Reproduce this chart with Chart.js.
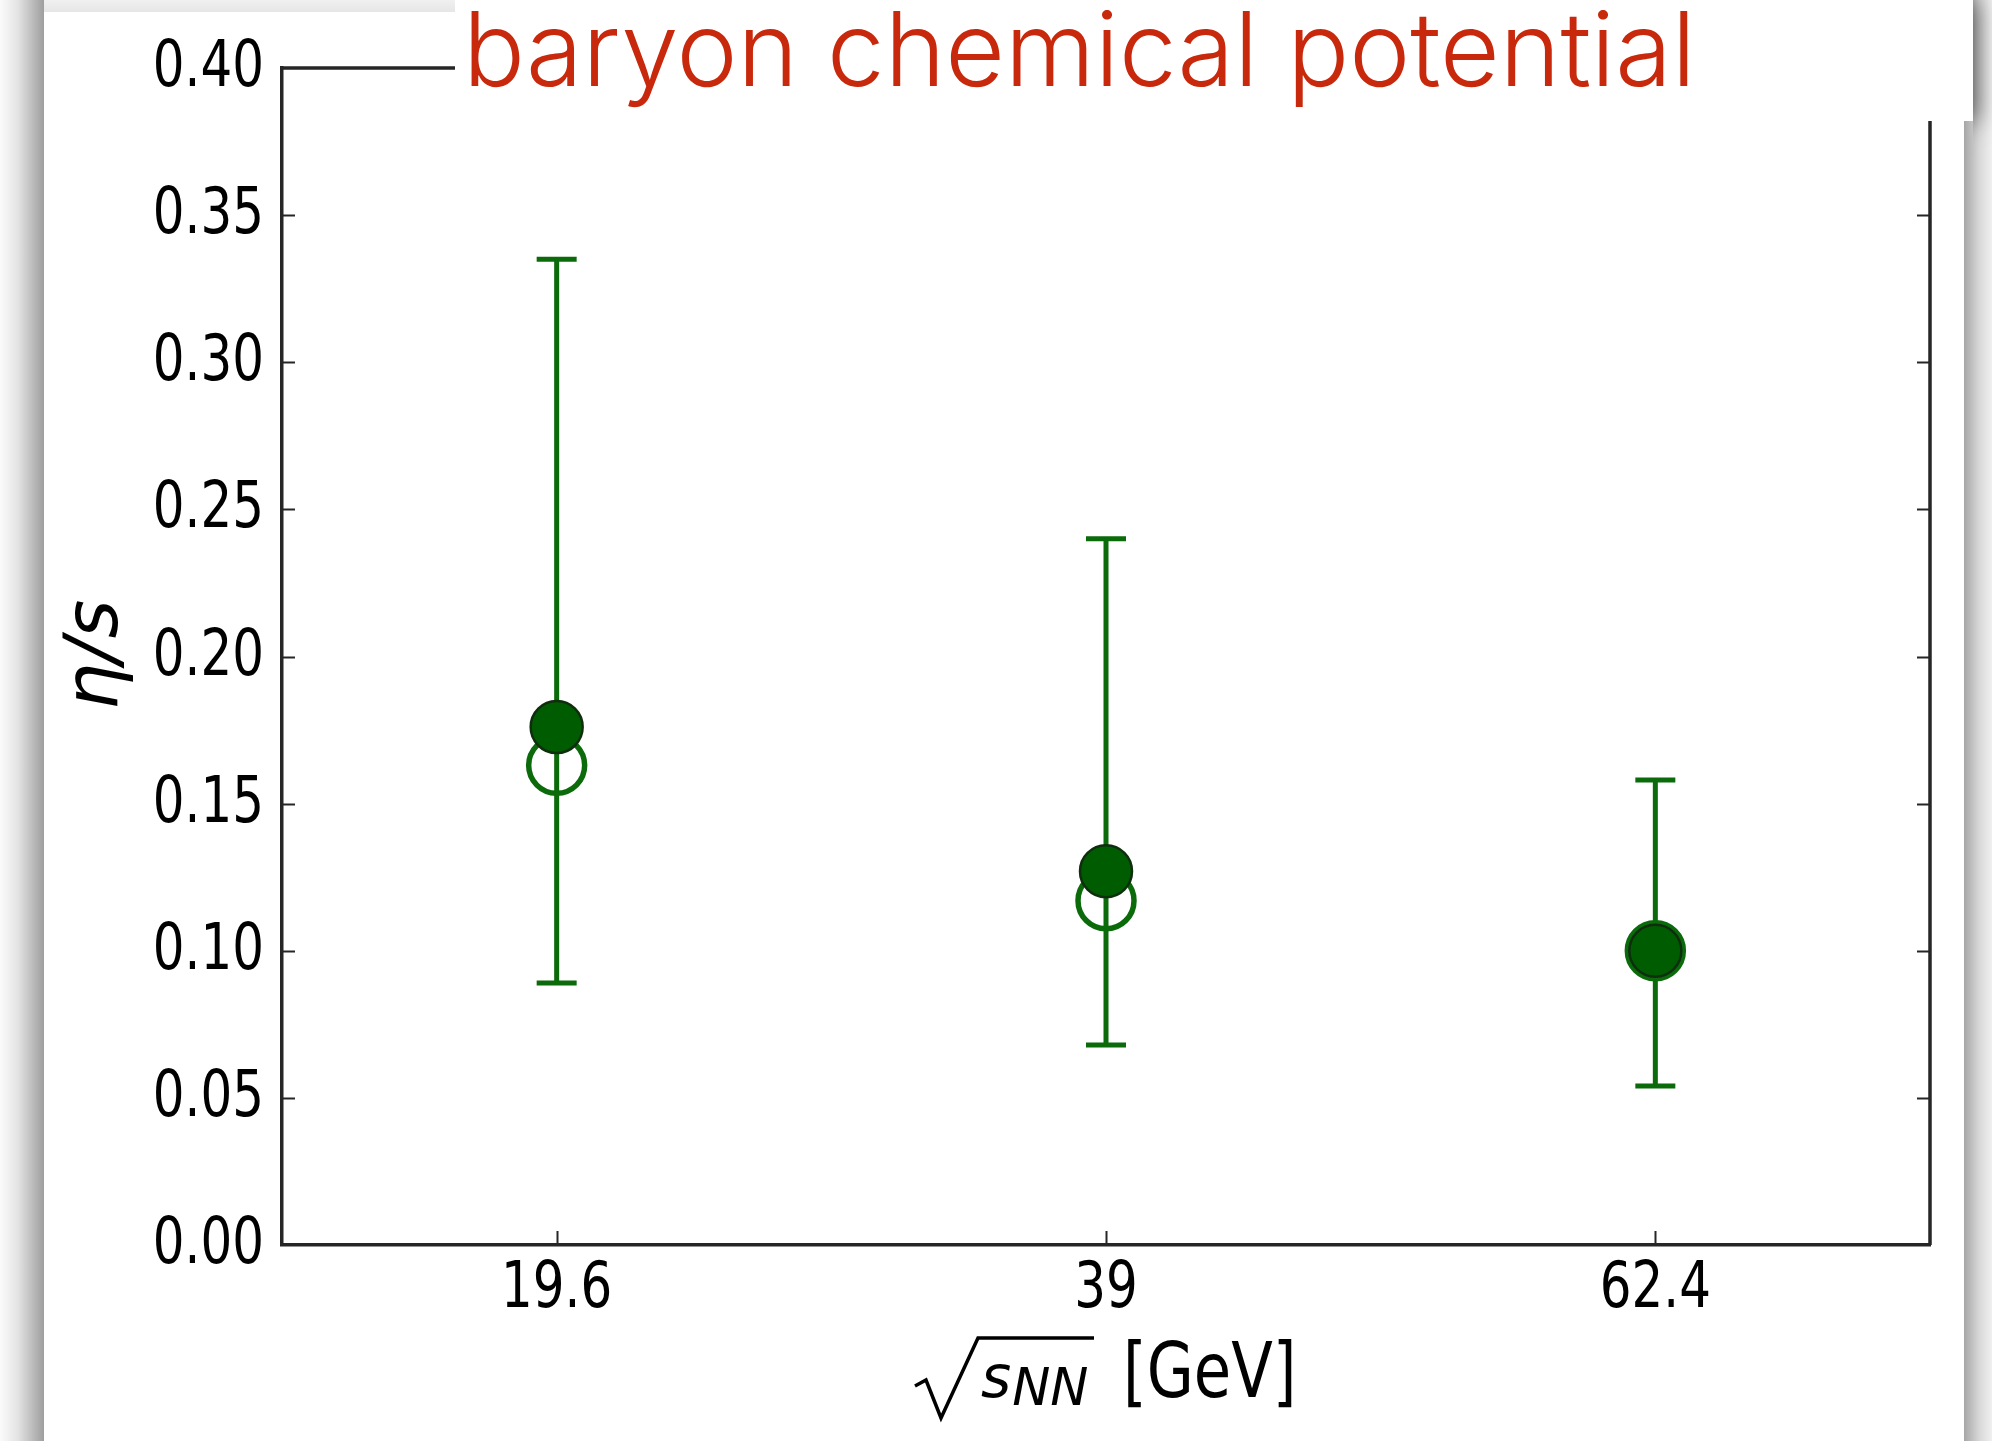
<!DOCTYPE html>
<html>
<head>
<meta charset="utf-8">
<title>eta/s vs beam energy</title>
<script src="https://cdn.jsdelivr.net/npm/chart.js@4.4.1/dist/chart.umd.min.js"></script>
<style>
  html, body { margin: 0; padding: 0; }
  body { width: 1992px; height: 1441px; overflow: hidden; background: #fff; position: relative; }
  .strip { position: absolute; }
  #leftStrip { left: 0; top: 0; width: 44px; height: 1441px; background: linear-gradient(to right, #fbfbfb, #e4e4e4 40%, #9e9e9e); }
  #topStrip { left: 44px; top: 0; width: 1920px; height: 12px; background: linear-gradient(to bottom, #f0f0f0, #e6e6e6); }
  #rightStrip { left: 1964px; top: 0; width: 28px; height: 1441px; background: linear-gradient(to right, #a6a6a6, #d8d8d8 55%, #f0f0f0); }
  #sheet { left: 44px; top: 12px; width: 1920px; height: 1429px; background: #fff; }
  #wrap { position: absolute; left: 0; top: 0; width: 1992px; height: 1441px; }
</style>
</head>
<body>
<div class="strip" id="leftStrip"></div>
<div class="strip" id="topStrip"></div>
<div class="strip" id="rightStrip"></div>
<div class="strip" id="sheet"></div>
<div id="wrap"><canvas id="myChart" width="1992" height="1441"></canvas></div>
<script>
// beam energies (x categories) and eta/s values
const energies = ['19.6', '39', '62.4'];
const etaFilled = [0.176, 0.127, 0.100];
const etaOpen = [0.163, 0.117, 0.100];
const errLow = [0.089, 0.068, 0.054];
const errHigh = [0.335, 0.240, 0.158];
const yTicks = [0, 0.05, 0.10, 0.15, 0.20, 0.25, 0.30, 0.35, 0.40];
const titleText = 'baryon chemical potential';

const green = '#0b6b0b';
const spine = '#262626';
const labelFont = '64px "DejaVu Sans"';
const squeeze = 0.78;

// text squeezed horizontally, like the rest of the figure
function squashText(ctx, text, x, y, font, sx, align) {
    ctx.save();
    ctx.font = font;
    const w = ctx.measureText(text).width * sx;
    let left = x;
    if (align === 'right') left = x - w;
    if (align === 'center') left = x - w / 2;
    ctx.translate(left, y);
    ctx.scale(sx, 1);
    ctx.textAlign = 'left';
    ctx.fillText(text, 0, 0);
    ctx.restore();
    return w;
}

const extras = {
    id: 'extras',
    beforeDatasetsDraw(chart) {
        // error bars go under the markers
        const {ctx, scales: {x, y}} = chart;
        ctx.save();
        ctx.strokeStyle = green;
        ctx.lineWidth = 5;
        ctx.lineCap = 'butt';
        energies.forEach((_, i) => {
            const px = x.getPixelForValue(i);
            const top = y.getPixelForValue(errHigh[i]);
            const bot = y.getPixelForValue(errLow[i]);
            ctx.beginPath();
            ctx.moveTo(px, top); ctx.lineTo(px, bot);
            ctx.moveTo(px - 20, top); ctx.lineTo(px + 20, top);
            ctx.moveTo(px - 20, bot); ctx.lineTo(px + 20, bot);
            ctx.stroke();
        });
        ctx.restore();
    },
    afterDraw(chart) {
        const {ctx, chartArea: a, scales: {x, y}} = chart;
        ctx.save();

        // top and right spines
        ctx.strokeStyle = spine;
        ctx.lineWidth = 3.5;
        ctx.beginPath();
        ctx.moveTo(a.left, a.top); ctx.lineTo(a.right, a.top); ctx.lineTo(a.right, a.bottom);
        ctx.stroke();

        // inward ticks on all four sides
        ctx.lineWidth = 2;
        yTicks.slice(1, -1).forEach(v => {
            const py = Math.round(y.getPixelForValue(v)) + 0.5;
            ctx.beginPath();
            ctx.moveTo(a.left, py); ctx.lineTo(a.left + 13, py);
            ctx.moveTo(a.right, py); ctx.lineTo(a.right - 13, py);
            ctx.stroke();
        });
        energies.forEach((_, i) => {
            const px = Math.round(x.getPixelForValue(i)) + 0.5;
            ctx.beginPath();
            ctx.moveTo(px, a.bottom); ctx.lineTo(px, a.bottom - 14);
            ctx.moveTo(px, a.top); ctx.lineTo(px, a.top + 14);
            ctx.stroke();
        });

        // tick labels, placed from the chart's own scales
        ctx.fillStyle = '#000';
        ctx.textBaseline = 'alphabetic';
        yTicks.forEach(v => {
            squashText(ctx, v.toFixed(2), a.left - 18, y.getPixelForValue(v) + 18, labelFont, squeeze, 'right');
        });
        energies.forEach((lab, i) => {
            squashText(ctx, lab, x.getPixelForValue(i), a.bottom + 62, labelFont, squeeze, 'center');
        });

        // y title: eta/s
        ctx.save();
        ctx.translate(117, 655);
        ctx.rotate(-Math.PI / 2);
        ctx.font = 'italic 74px "DejaVu Sans"';
        ctx.textAlign = 'center';
        ctx.fillText('η/s', 0, 0);
        ctx.restore();

        // x title: sqrt(s_NN) [GeV]
        ctx.strokeStyle = '#000';
        ctx.lineWidth = 3.5;
        ctx.lineJoin = 'miter';
        ctx.beginPath();
        ctx.moveTo(915, 1386);
        ctx.lineTo(926, 1380);
        ctx.lineTo(941, 1418);
        ctx.lineTo(978, 1338);
        ctx.lineTo(1094, 1338);
        ctx.stroke();
        const sw = squashText(ctx, 's', 981, 1397, 'italic 58px "DejaVu Sans"', 1);
        squashText(ctx, 'NN', 981 + sw + 1, 1405, 'italic 51px "DejaVu Sans"', 1);
        squashText(ctx, '[GeV]', 1123, 1397, '76px "DejaVu Sans"', 0.8);

        // white label box with the caption, shadow only on its right edge
        ctx.save();
        ctx.beginPath();
        ctx.rect(1973, 0, 30, 200);
        ctx.clip();
        ctx.shadowColor = 'rgba(0,0,0,0.55)';
        ctx.shadowBlur = 22;
        ctx.shadowOffsetX = 4;
        ctx.fillStyle = '#fff';
        ctx.fillRect(455, 0, 1518, 121);
        ctx.restore();
        ctx.fillStyle = '#fff';
        ctx.fillRect(455, 0, 1518, 121);

        const family = 'Inter, Lato, Roboto, sans-serif';
        ctx.fillStyle = '#c8280b';
        ctx.font = '300 110px ' + family;
        const tw = ctx.measureText(titleText).width;
        const size = 110 * 1233 / tw;
        ctx.font = '300 ' + size.toFixed(1) + 'px ' + family;
        ctx.fillText(titleText, 463, 86);

        ctx.restore();
    }
};

const ctx = document.getElementById('myChart').getContext('2d');
const myChart = new Chart(ctx, {
    type: 'scatter',
    data: {
        datasets: [{
            label: 'eta/s',
            data: etaFilled.map((v, i) => ({x: i, y: v})),
            pointRadius: 26,
            pointHoverRadius: 26,
            pointBackgroundColor: '#005c00',
            pointBorderColor: '#0e2e0e',
            pointBorderWidth: 2.5
        }, {
            label: 'eta/s (open)',
            data: etaOpen.map((v, i) => ({x: i, y: v})),
            pointRadius: 28,
            pointHoverRadius: 28,
            pointBackgroundColor: 'rgba(0,0,0,0)',
            pointBorderColor: green,
            pointBorderWidth: 5.5
        }]
    },
    options: {
        responsive: false,
        animation: false,
        events: [],
        layout: { padding: { top: 68, right: 62, left: 0, bottom: 0 } },
        plugins: { legend: { display: false }, tooltip: { enabled: false } },
        scales: {
            x: {
                type: 'linear',
                min: -0.5,
                max: 2.5,
                afterBuildTicks: s => { s.ticks = energies.map((_, i) => ({value: i})); },
                afterFit: s => { s.height = 196; },
                ticks: { display: false },
                grid: { display: false },
                border: { display: true, color: spine, width: 3.5 }
            },
            y: {
                min: 0,
                max: 0.4,
                afterBuildTicks: s => { s.ticks = yTicks.map(v => ({value: v})); },
                afterFit: s => { s.width = 282; },
                ticks: { display: false },
                grid: { display: false },
                border: { display: true, color: spine, width: 3.5 }
            }
        }
    },
    plugins: [extras]
});
</script>
</body>
</html>
